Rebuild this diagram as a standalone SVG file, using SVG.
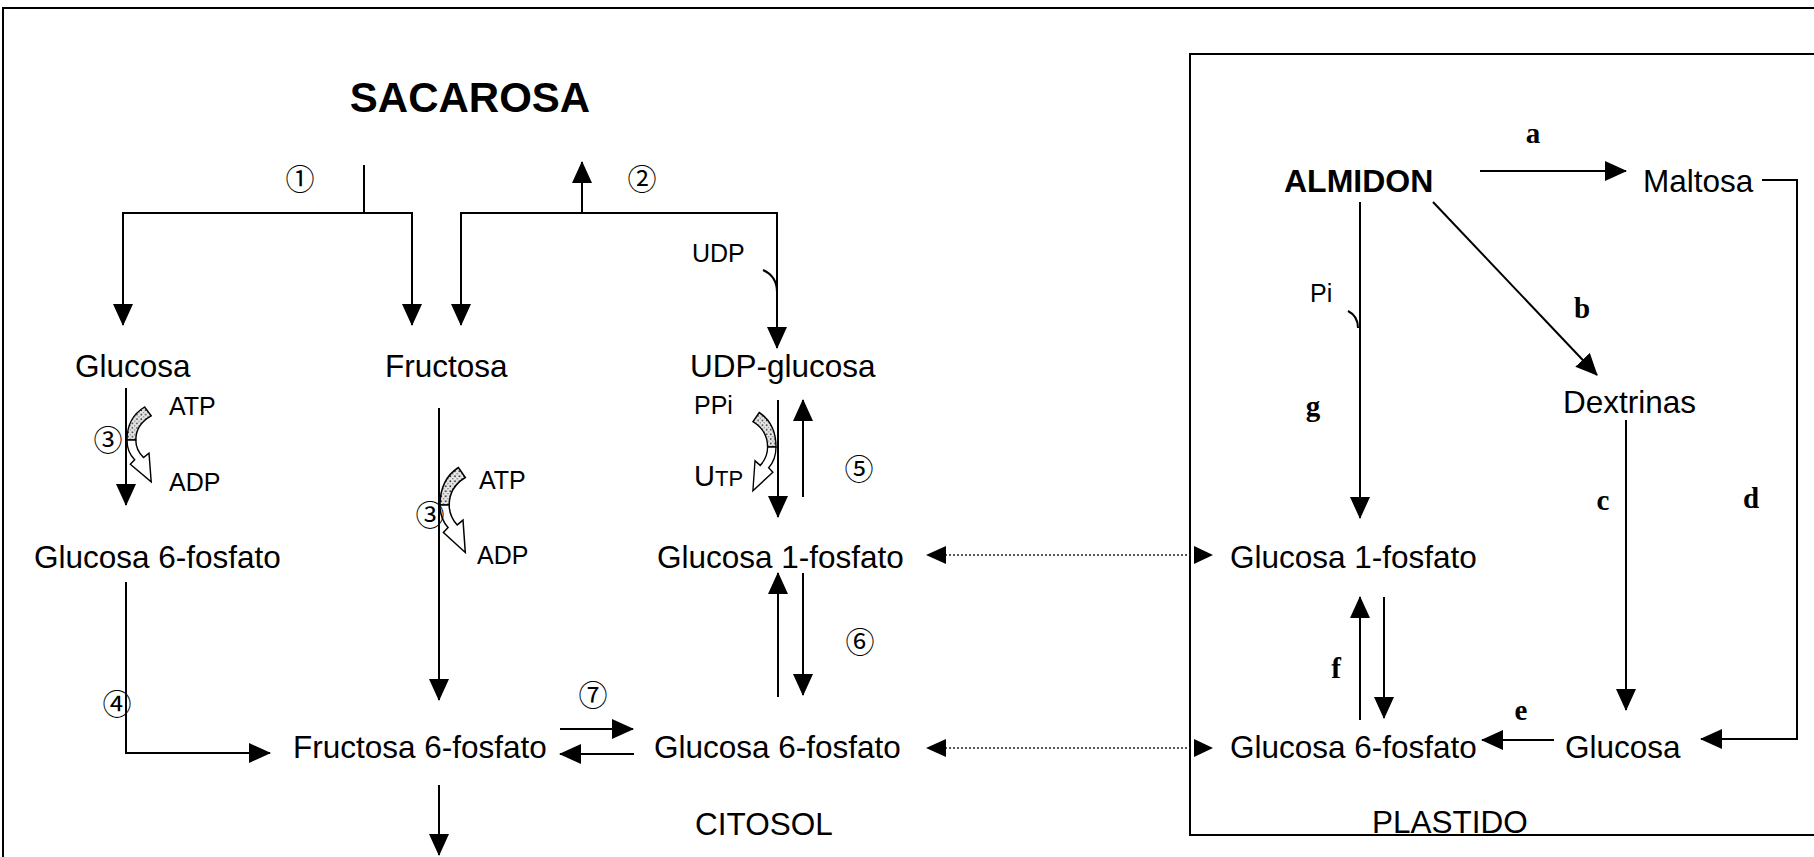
<svg xmlns="http://www.w3.org/2000/svg" width="1814" height="857" viewBox="0 0 1814 857">
<style>
.ln{fill:none;stroke:#000;stroke-width:2}
.ar{fill:none;stroke:#000;stroke-width:2;marker-end:url(#ah)}
.dt{fill:none;stroke:#222;stroke-width:1.6;stroke-dasharray:2 2}
.t{font-family:"Liberation Sans",Arial,Helvetica,sans-serif;font-size:31.5px;fill:#000}
.s{font-family:"Liberation Sans",Arial,Helvetica,sans-serif;font-size:25px;fill:#000}
.bt{font-family:"Liberation Sans",Arial,Helvetica,sans-serif;font-weight:bold;fill:#000}
.lt{font-family:"Liberation Serif","Times New Roman",serif;font-weight:bold;font-size:29px;fill:#000}
.cn{font-family:"Noto Sans CJK JP","DejaVu Sans",sans-serif;font-size:29px;fill:#000;text-anchor:middle}
.gr{fill:url(#stip);stroke:#000;stroke-width:1.3}
.wh{fill:#fff;stroke:#000;stroke-width:1.3}
</style>
<defs>
<marker id="ah" markerUnits="userSpaceOnUse" viewBox="0 0 22 20" markerWidth="22" markerHeight="20" refX="21" refY="10" orient="auto">
<path d="M0,0 L22,10 L0,20 Z" fill="#000"/>
</marker>
<pattern id="stip" patternUnits="userSpaceOnUse" width="4" height="4">
<rect width="4" height="4" fill="#e6e6e6"/>
<circle cx="1" cy="1" r="0.8" fill="#333"/>
<circle cx="3" cy="3" r="0.6" fill="#666"/>
</pattern>
<g id="curl">
<path class="gr" d="M0,0 C0,-14 6,-24 16,-30 L22,-22 C13,-17 8,-9 8,0 Z"/>
<path class="wh" d="M0,0 C0,8 3,14 7,18 L3,22 L22,38 L20,12 L15,16 C11,12 8,7 8,0 Z"/>
</g>
</defs>

<g id="frame">
<path class="ln" d="M3,857 V8 H1814" stroke-width="2.5"/>
<path class="ln" d="M1814,54 H1190 V835 H1814"/>
</g>

<g id="connectors">
<path class="ln" d="M364,165 V213"/>
<path class="ar" d="M364,213 H123 V325"/>
<path class="ar" d="M364,213 H412 V325"/>
<path class="ar" d="M582,213 H461 V325"/>
<path class="ar" d="M582,213 H777 V348"/>
<path class="ar" d="M582,213 V162"/>
<path class="ln" d="M763,270 C772,274 777,282 777,292" stroke-width="1.5"/>
<path class="ar" d="M126,388 V505"/>
<path class="ar" d="M126,582 V753 H270"/>
<path class="ar" d="M439,408 V700"/>
<path class="ar" d="M560,729 H633"/>
<path class="ar" d="M634,754 H560"/>
<path class="ar" d="M439,785 V855"/>
<path class="ar" d="M778,400 V517"/>
<path class="ar" d="M803,497 V400"/>
<path class="ar" d="M778,697 V573"/>
<path class="ar" d="M803,573 V695"/>
<path class="dt" d="M945,555 H1190"/>
<path class="dt" d="M945,748 H1190"/>
<path d="M926,555 L946,546 L946,564 Z M926,748 L946,739 L946,757 Z M1213,555 L1194,546 L1194,564 Z M1213,748 L1194,739 L1194,757 Z" fill="#000"/>
<path class="ar" d="M1480,171 H1626"/>
<path class="ar" d="M1762,180 H1797 V739 H1701"/>
<path class="ar" d="M1433,202 L1597,375"/>
<path class="ar" d="M1626,420 V710"/>
<path class="ar" d="M1554,740 H1482"/>
<path class="ar" d="M1360,720 V597"/>
<path class="ar" d="M1384,597 V718"/>
<path class="ar" d="M1360,202 V518"/>
<path class="ln" d="M1348,311 C1354,314 1358,320 1358,328" stroke-width="1.5"/>
<use href="#curl" transform="translate(127,440) scale(1.1,1.1)"/>
<use href="#curl" transform="translate(440,505) scale(1.15,1.25)"/>
<use href="#curl" transform="translate(776,447) scale(-1.05,1.15)"/>
</g>

<g id="n-sacarosa"><text class="bt" x="470" y="112" font-size="42" text-anchor="middle">SACAROSA</text></g>
<g id="n-glucosa"><text class="t" x="75" y="377">Glucosa</text></g>
<g id="n-fructosa"><text class="t" x="385" y="377">Fructosa</text></g>
<g id="n-udpglucosa"><text class="t" x="690" y="377">UDP-glucosa</text></g>
<g id="n-g6p-c"><text class="t" x="34" y="568">Glucosa 6-fosfato</text></g>
<g id="n-g1p-c"><text class="t" x="657" y="568">Glucosa 1-fosfato</text></g>
<g id="n-f6p"><text class="t" x="293" y="758">Fructosa 6-fosfato</text></g>
<g id="n-g6p-c2"><text class="t" x="654" y="758">Glucosa 6-fosfato</text></g>
<g id="n-citosol"><text class="t" x="695" y="835">CITOSOL</text></g>
<g id="n-almidon"><text class="bt" x="1284" y="192" font-size="32">ALMIDON</text></g>
<g id="n-maltosa"><text class="t" x="1643" y="192">Maltosa</text></g>
<g id="n-dextrinas"><text class="t" x="1563" y="413">Dextrinas</text></g>
<g id="n-g1p-p"><text class="t" x="1230" y="568">Glucosa 1-fosfato</text></g>
<g id="n-g6p-p"><text class="t" x="1230" y="758">Glucosa 6-fosfato</text></g>
<g id="n-glucosa-p"><text class="t" x="1565" y="758">Glucosa</text></g>
<g id="n-plastido"><text class="t" x="1372" y="833">PLASTIDO</text></g>

<g id="labels">
<text class="s" x="692" y="262">UDP</text>
<text class="s" x="169" y="415">ATP</text>
<text class="s" x="169" y="491">ADP</text>
<text class="s" x="479" y="489">ATP</text>
<text class="s" x="477" y="564">ADP</text>
<text class="s" x="694" y="414">PPi</text>
<text class="s" x="694" y="486"><tspan font-size="29">U</tspan><tspan font-size="22">TP</tspan></text>
<text class="s" x="1310" y="302">Pi</text>
<text class="cn" x="300" y="190">①</text>
<text class="cn" x="642" y="190">②</text>
<text class="cn" x="108" y="451">③</text>
<text class="cn" x="430" y="526">③</text>
<text class="cn" x="117" y="715">④</text>
<text class="cn" x="859" y="480">⑤</text>
<text class="cn" x="860" y="653">⑥</text>
<text class="cn" x="593" y="706">⑦</text>
<text class="lt" x="1533" y="143" text-anchor="middle">a</text>
<text class="lt" x="1582" y="318" text-anchor="middle">b</text>
<text class="lt" x="1603" y="510" text-anchor="middle">c</text>
<text class="lt" x="1751" y="508" text-anchor="middle">d</text>
<text class="lt" x="1521" y="720" text-anchor="middle">e</text>
<text class="lt" x="1336" y="678" text-anchor="middle">f</text>
<text class="lt" x="1313" y="416" text-anchor="middle">g</text>
</g>
</svg>
